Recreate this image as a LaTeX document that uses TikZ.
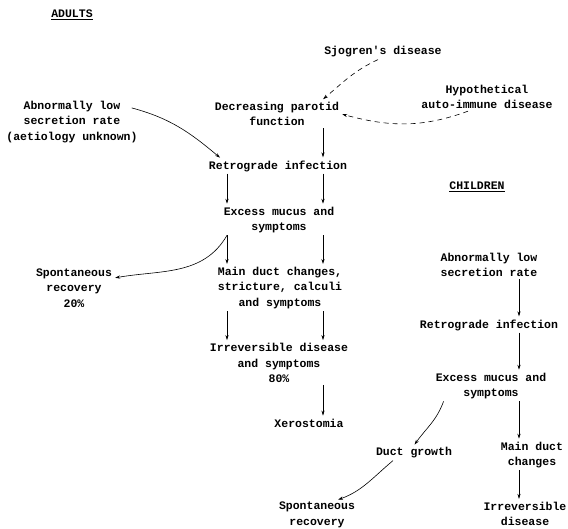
\documentclass[tikz,border=0pt]{standalone}
\usepackage{fontspec}
\setmonofont{Liberation Mono}
\usetikzlibrary{arrows.meta}

\begin{document}
\begin{tikzpicture}[x=1pt,y=1pt,
		txt/.style={font=\ttfamily\bfseries\fontsize{11.5}{15.5}\selectfont, align=center, inner sep=2pt},
		arr/.style={-{Stealth[length=5pt,width=3.2pt]}, semithick, shorten >=1pt},
		dasharr/.style={arr, dash pattern=on 5pt off 4pt}]
	\useasboundingbox (0,0) rectangle (568,-528);
	% adults
	\node [txt] (adults) at (72,-15) {\underline{ADULTS}};
	\node [txt] (sjogren) at (383,-52) {Sjogren's disease};
	\node [txt] (hypo) at (487,-97) {Hypothetical\\auto-immune disease};
	\node [txt] (decr) at (277,-114) {Decreasing parotid\\function};
	\node [txt] (abnl) at (72,-122) {Abnormally low\\secretion rate\\(aetiology unknown)};
	\node [txt] (retro) at (278,-166) {Retrograde infection};
	\node [txt] (excess) at (279,-220) {Excess mucus and\\symptoms};
	\node [txt] (spont) at (74,-288) {Spontaneous\\recovery\\20\%};
	\node [txt] (mainduct) at (280,-288) {Main duct changes,\\stricture, calculi\\and symptoms};
	\node [txt] (irrev) at (279,-363) {Irreversible disease\\and symptoms\\80\%};
	\node [txt] (xero) at (309,-423) {Xerostomia};
	% children
	\node [txt] (children) at (477,-187) {\underline{CHILDREN}};
	\node [txt] (cabnl) at (489,-265) {Abnormally low\\secretion rate};
	\node [txt] (cretro) at (489,-325) {Retrograde infection};
	\node [txt] (cexcess) at (491,-386) {Excess mucus and\\symptoms};
	\node [txt] (cduct) at (414,-453) {Duct growth};
	\node [txt] (cmain) at (532,-455) {Main duct\\changes};
	\node [txt] (cirrev) at (525,-514) {Irreversible\\disease};
	\node [txt] (cspont) at (317,-515) {Spontaneous\\recovery};
	%
	\coordinate (ll) at (227,0);
	\coordinate (lr) at (323,0);
	\coordinate (lc) at (519,0);
	%
	\draw [dasharr] ([xshift=-5pt]sjogren.south) to[out=205,in=40] ([xshift=-19pt]decr.north east);
	\draw [dasharr] ([xshift=-19pt]hypo.south) to[out=200,in=-15] (decr.east);
	\draw [arr] ([xshift=-8pt,yshift=-9pt]abnl.north east) to[out=-15,in=140] ([xshift=14pt]retro.north west);
	\draw [arr] (decr.south -| lr) -- (retro.north -| lr);
	\draw [arr] (retro.south -| ll) -- (excess.north -| ll);
	\draw [arr] (retro.south -| lr) -- (excess.north -| lr);
	\draw [arr] (excess.south -| ll) to[out=-120,in=10] ([yshift=10pt]spont.east);
	\draw [arr] (excess.south -| ll) -- (mainduct.north -| ll);
	\draw [arr] (excess.south -| lr) -- (mainduct.north -| lr);
	\draw [arr] (mainduct.south -| ll) -- (irrev.north -| ll);
	\draw [arr] (mainduct.south -| lr) -- (irrev.north -| lr);
	\draw [arr] (irrev.south -| lr) -- (xero.north -| lr);
	%
	\draw [arr] (cabnl.south -| lc) -- (cretro.north -| lc);
	\draw [arr] (cretro.south -| lc) -- (cexcess.north -| lc);
	\draw [arr] (cexcess.south -| lc) -- (cmain.north -| lc);
	\draw [arr] (cmain.south -| lc) -- (cirrev.north -| lc);
	\draw [arr] ([xshift=10pt]cexcess.south west) to[out=-110,in=55] (cduct.north);
	\draw [arr] ([xshift=-21pt]cduct.south) to[out=-140,in=20] ([xshift=-20pt]cspont.north east);
\end{tikzpicture}
\end{document}
